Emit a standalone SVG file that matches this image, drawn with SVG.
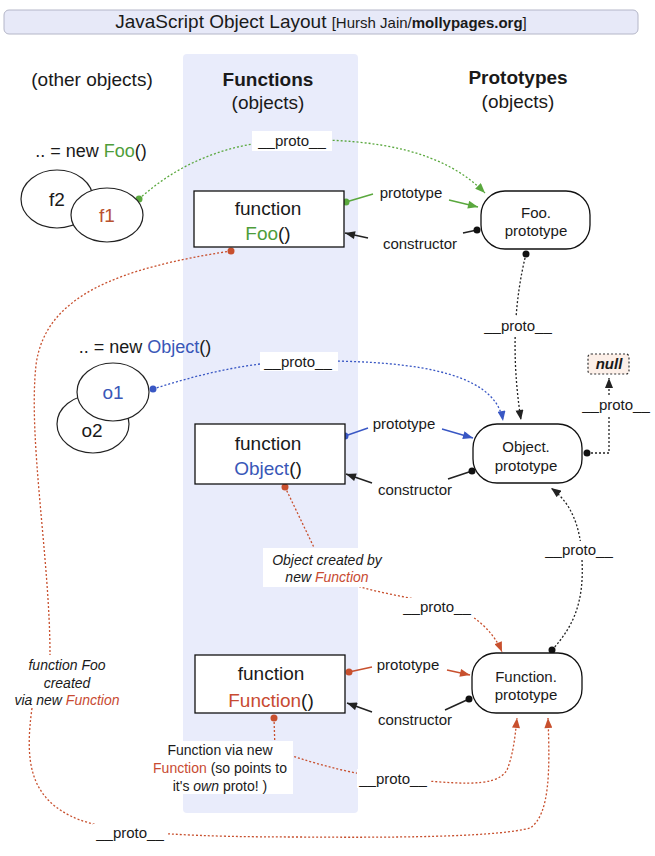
<svg xmlns="http://www.w3.org/2000/svg" width="655" height="856" viewBox="0 0 655 856">
<defs>
<style>
text{font-family:"Liberation Sans",Arial,sans-serif;fill:#1a1a1a}
.h{font-size:19px}
.b{font-weight:bold}
.lbl{font-size:15px}
.it{font-size:14px;font-style:italic}
.note{font-size:14px}
.box{fill:#fff;stroke:#111;stroke-width:1.3}
.ell{fill:#fff;stroke:#222;stroke-width:1.2}
.bt{font-size:19px;text-anchor:middle}
.pt{font-size:15px;text-anchor:middle}
.green{fill:#4e9d3a}
.blue{fill:#3957b8}
.red{fill:#c84b32}
.dot{stroke:none}
.dg{stroke:#5aa83e;stroke-width:1.3;fill:none;stroke-dasharray:2 2}
.db{stroke:#3957c4;stroke-width:1.3;fill:none;stroke-dasharray:2 2}
.dr{stroke:#c8502e;stroke-width:1.3;fill:none;stroke-dasharray:2 2}
.dk{stroke:#222;stroke-width:1.3;fill:none;stroke-dasharray:2 2}
.sg{stroke:#5aa83e;stroke-width:1.5;fill:none}
.sb{stroke:#3957c4;stroke-width:1.5;fill:none}
.sr{stroke:#c8502e;stroke-width:1.5;fill:none}
.sk{stroke:#222;stroke-width:1.5;fill:none}
.wb{fill:#fff}
</style>
<marker id="ag" viewBox="0 0 10 8" refX="10" refY="4" markerWidth="11" markerHeight="8" markerUnits="userSpaceOnUse" orient="auto"><path d="M0,0 L10,4 L0,8 z" fill="#5aa83e"/></marker>
<marker id="ab" viewBox="0 0 10 8" refX="10" refY="4" markerWidth="11" markerHeight="8" markerUnits="userSpaceOnUse" orient="auto"><path d="M0,0 L10,4 L0,8 z" fill="#3957c4"/></marker>
<marker id="ar" viewBox="0 0 10 8" refX="10" refY="4" markerWidth="11" markerHeight="8" markerUnits="userSpaceOnUse" orient="auto"><path d="M0,0 L10,4 L0,8 z" fill="#c8502e"/></marker>
<marker id="ak" viewBox="0 0 10 8" refX="10" refY="4" markerWidth="11" markerHeight="8" markerUnits="userSpaceOnUse" orient="auto"><path d="M0,0 L10,4 L0,8 z" fill="#222"/></marker>
</defs>
<rect width="655" height="856" fill="#fff"/>

<!-- title -->
<g id="title">
<rect x="4" y="10" width="634" height="24" rx="5" fill="#e7e9f8" stroke="#b4b6c8" stroke-width="1"/>
<text x="321" y="28" text-anchor="middle"><tspan font-size="19">JavaScript Object Layout </tspan><tspan font-size="15">[Hursh Jain/</tspan><tspan font-size="15" font-weight="bold">mollypages.org</tspan><tspan font-size="15">]</tspan></text>
</g>

<!-- functions column band -->
<rect id="band" x="183" y="54" width="175" height="759" rx="4" fill="#e9ecfb"/>

<g id="headings">
<text class="h" x="92" y="86" text-anchor="middle">(other objects)</text>
<text class="h b" x="268" y="86" text-anchor="middle">Functions</text>
<text class="h" x="268" y="109" text-anchor="middle">(objects)</text>
<text class="h b" x="518" y="84" text-anchor="middle">Prototypes</text>
<text class="h" x="518" y="108" text-anchor="middle">(objects)</text>
</g>

<!-- connectors -->
<g id="connectors">
<!-- f1 __proto__ -> Foo.prototype -->
<path class="dg" d="M139,199 C180,162 230,142 292,140 C380,138 445,152 485,193" marker-end="url(#ag)"/>
<!-- Foo prototype / constructor -->
<path class="sg" d="M346,202 L373,194"/>
<path class="sg" d="M449,200 L478,207" marker-end="url(#ag)"/>
<path class="sk" d="M477,230 L463,233"/>
<path class="sk" d="M368,238 L345,233" marker-end="url(#ak)"/>
<!-- Foo.prototype __proto__ -> Object.prototype -->
<path class="dk" d="M526,254 Q507,330 521,420" marker-end="url(#ak)"/>
<!-- o1 __proto__ -> Object.prototype -->
<path class="db" d="M153,389 C200,374 250,362 300,361 C400,360 495,368 503,421" marker-end="url(#ab)"/>
<!-- Object prototype / constructor -->
<path class="sb" d="M345,436 L368,428"/>
<path class="sb" d="M442,429 L473,438" marker-end="url(#ab)"/>
<path class="sk" d="M472,471 L448,479"/>
<path class="sk" d="M372,483 L346,474" marker-end="url(#ak)"/>
<!-- Object.prototype __proto__ -> null -->
<path class="dk" d="M587,453 L609,453 L609,378" marker-end="url(#ak)"/>
<!-- Foo __proto__ -> Function.prototype -->
<path class="dr" d="M231,251 C120,268 45,295 36,365 C28,440 50,560 50,655"/>
<path class="dr" d="M32,708 C25,760 28,800 80,820 C120,834 200,837 300,837 C420,838 500,836 530,828 C550,815 550,770 548,718" marker-end="url(#ar)"/>
<!-- Object __proto__ -> Function.prototype -->
<path class="dr" d="M285,487 L320,560 L360,587 C400,598 450,603 470,615 C488,627 497,640 502,652" marker-end="url(#ar)"/>
<!-- Function __proto__ -> Function.prototype -->
<path class="dr" d="M274,718 L275,750 C320,766 360,776 400,779 C450,782 495,790 507,770 C513,755 515,738 517,718" marker-end="url(#ar)"/>
<!-- Function prototype / constructor -->
<path class="sr" d="M349,672 L372,667"/>
<path class="sr" d="M447,670 L470,675" marker-end="url(#ar)"/>
<path class="sk" d="M469,699 L445,710"/>
<path class="sk" d="M372,712 L347,703" marker-end="url(#ak)"/>
<!-- Function.prototype __proto__ -> Object.prototype -->
<path class="dk" d="M552,650 C575,625 584,600 582,560 C581,525 570,502 551,488" marker-end="url(#ak)"/>

<!-- connector dots -->
<circle class="dot" cx="139" cy="199" r="3.5" fill="#5aa83e"/>
<circle class="dot" cx="346" cy="202" r="3.5" fill="#5aa83e"/>
<circle class="dot" cx="153" cy="389" r="3.5" fill="#3957c4"/>
<circle class="dot" cx="345" cy="436" r="3.5" fill="#3957c4"/>
<circle class="dot" cx="231" cy="251" r="3.5" fill="#c8502e"/>
<circle class="dot" cx="285" cy="487" r="3.5" fill="#c8502e"/>
<circle class="dot" cx="274" cy="718" r="3.5" fill="#c8502e"/>
<circle class="dot" cx="349" cy="672" r="3.5" fill="#c8502e"/>
<circle class="dot" cx="477" cy="230" r="3.5" fill="#111"/>
<circle class="dot" cx="526" cy="254" r="3.5" fill="#111"/>
<circle class="dot" cx="472" cy="471" r="3.5" fill="#111"/>
<circle class="dot" cx="587" cy="453" r="3.5" fill="#111"/>
<circle class="dot" cx="469" cy="699" r="3.5" fill="#111"/>
<circle class="dot" cx="552" cy="650" r="3.5" fill="#111"/>

<!-- connector labels -->
<rect class="wb" x="252" y="131" width="80" height="20"/>
<text class="lbl" x="292" y="146" text-anchor="middle">__proto__</text>
<text class="lbl" x="411" y="198" text-anchor="middle">prototype</text>
<text class="lbl" x="420" y="249" text-anchor="middle">constructor</text>
<rect class="wb" x="482" y="316" width="72" height="20"/>
<text class="lbl" x="518" y="331" text-anchor="middle">__proto__</text>
<rect class="wb" x="260" y="352" width="78" height="19"/>
<text class="lbl" x="298" y="367" text-anchor="middle">__proto__</text>
<text class="lbl" x="404" y="429" text-anchor="middle">prototype</text>
<text class="lbl" x="415" y="495" text-anchor="middle">constructor</text>
<rect class="wb" x="580" y="396" width="72" height="19"/>
<text class="lbl" x="616" y="410" text-anchor="middle">__proto__</text>
<rect class="wb" x="543" y="541" width="72" height="19"/>
<text class="lbl" x="579" y="555" text-anchor="middle">__proto__</text>
<rect class="wb" x="401" y="598" width="72" height="19"/>
<text class="lbl" x="437" y="612" text-anchor="middle">__proto__</text>
<text class="lbl" x="408" y="670" text-anchor="middle">prototype</text>
<text class="lbl" x="415" y="725" text-anchor="middle">constructor</text>
<rect class="wb" x="357" y="769" width="74" height="19"/>
<text class="lbl" x="393" y="784" text-anchor="middle">__proto__</text>
<rect class="wb" x="93" y="824" width="74" height="19"/>
<text class="lbl" x="130" y="838" text-anchor="middle">__proto__</text>

<!-- notes -->
<rect class="wb" x="263" y="548" width="124" height="39"/>
<text class="it" x="327" y="565" text-anchor="middle">Object created by</text>
<text class="it" x="327" y="582" text-anchor="middle">new <tspan class="red">Function</tspan></text>
<text class="it" x="67" y="670" text-anchor="middle">function Foo</text>
<text class="it" x="67" y="688" text-anchor="middle">created</text>
<text class="it" x="67" y="705" text-anchor="middle">via new <tspan class="red">Function</tspan></text>
<rect class="wb" x="147" y="741" width="146" height="53"/>
<text class="note" x="220" y="755" text-anchor="middle">Function via new</text>
<text class="note" x="220" y="773" text-anchor="middle"><tspan class="red">Function</tspan> (so points to</text>
<text class="note" x="220" y="791" text-anchor="middle">it's <tspan font-style="italic">own</tspan> proto! )</text>
</g>

<!-- other objects -->
<g id="foo-instances">
<text font-size="18" x="91" y="157" text-anchor="middle">.. = new <tspan class="green">Foo</tspan>()</text>
<ellipse class="ell" cx="57" cy="199" rx="36" ry="29"/>
<text font-size="19" x="57" y="206" text-anchor="middle">f2</text>
</g>
<g id="f1">
<ellipse class="ell" cx="107" cy="215" rx="36" ry="27"/>
<text font-size="19" x="107" y="222" text-anchor="middle" style="fill:#b9522f">f1</text>
</g>
<g id="object-instances">
<text font-size="18" x="145" y="353" text-anchor="middle">.. = new <tspan class="blue">Object</tspan>()</text>
<ellipse class="ell" cx="93" cy="424" rx="36" ry="29"/>
<text font-size="19" x="92" y="437" text-anchor="middle">o2</text>
</g>
<g id="o1">
<ellipse class="ell" cx="113" cy="392" rx="36" ry="29"/>
<text font-size="19" x="113" y="399" text-anchor="middle" style="fill:#3957b8">o1</text>
</g>

<!-- function nodes -->
<g id="fn-foo">
<rect class="box" x="194" y="191" width="150" height="56"/>
<text class="bt" x="268" y="215">function</text>
<text class="bt" x="268" y="240"><tspan class="green">Foo</tspan>()</text>
</g>
<g id="fn-object">
<rect class="box" x="195" y="424" width="150" height="60"/>
<text class="bt" x="268" y="450">function</text>
<text class="bt" x="268" y="475"><tspan class="blue">Object</tspan>()</text>
</g>
<g id="fn-function">
<rect class="box" x="195" y="655" width="150" height="58"/>
<text class="bt" x="271" y="680">function</text>
<text class="bt" x="271" y="707" font-size="20"><tspan class="red">Function</tspan>()</text>
</g>

<!-- prototypes -->
<g id="foo-prototype">
<rect class="box" x="481" y="191" width="109" height="58" rx="24"/>
<text class="pt" x="536" y="218">Foo.</text>
<text class="pt" x="536" y="236">prototype</text>
</g>
<g id="object-prototype">
<rect class="box" x="473" y="424" width="109" height="59" rx="24"/>
<text class="pt" x="526" y="452">Object.</text>
<text class="pt" x="526" y="471">prototype</text>
</g>
<g id="function-prototype">
<rect class="box" x="472" y="653" width="110" height="60" rx="24"/>
<text class="pt" x="526" y="682">Function.</text>
<text class="pt" x="526" y="700">prototype</text>
</g>
<g id="null">
<rect x="588" y="354" width="41" height="20" rx="3" fill="#fcefe8" stroke="#333" stroke-width="1.2" stroke-dasharray="2 2"/>
<text x="609" y="369" font-size="15" font-weight="bold" font-style="italic" text-anchor="middle">null</text>
</g>
</svg>
